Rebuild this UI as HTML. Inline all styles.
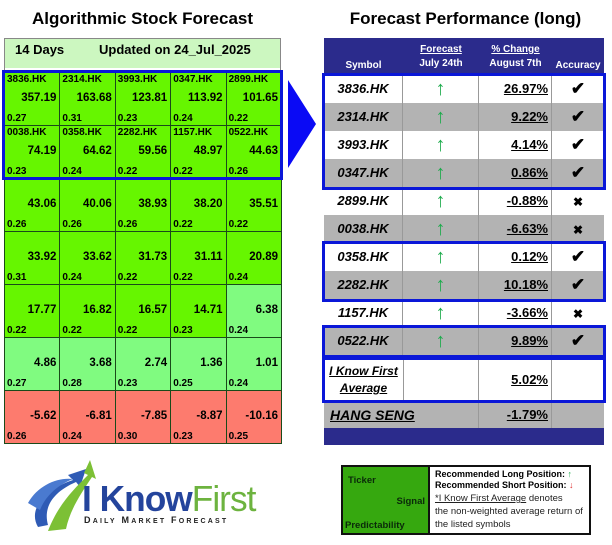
<!DOCTYPE html>
<html><head><meta charset="utf-8"><style>
*{margin:0;padding:0;box-sizing:border-box}
body{width:612px;height:545px;background:#fff;position:relative;overflow:hidden;font-family:"Liberation Sans",Arial,sans-serif;font-weight:bold;color:#000}
.a{position:absolute}
.c{position:absolute;border:1px solid #1a4a1a;font-size:10px}
.c .t{position:absolute;left:2px;top:1px;font-size:10px}
.c .v{position:absolute;right:3px;top:19px;font-size:11.5px}
.c .p{position:absolute;left:2px;bottom:1px;font-size:10px}
.r{position:absolute;left:324px;width:280px;height:28px;font-size:12px}
.r div{position:absolute;top:0;height:28px;line-height:28px;border-right:1px solid #999;white-space:nowrap}
.sym{left:0;width:79px;text-align:center;font-style:italic;font-size:13px}
.ar{left:79px;width:76px;text-align:center;color:#1dab4c;font-size:20px;font-weight:normal}
.pc{left:155px;width:73px;text-align:right;padding-right:3px;text-decoration:underline;font-size:13px}
.ac{left:228px;width:52px;text-align:center;font-size:17px;border-right:none!important}
.bl{position:absolute;border:3px solid #0a17d8}
</style></head><body>
<div class="a" style="left:0;top:9px;width:285px;text-align:center;font-size:17px">Algorithmic Stock Forecast</div>
<div class="a" style="left:323px;top:9px;width:285px;text-align:center;font-size:17px">Forecast Performance (long)</div>
<div class="a" style="left:4px;top:38px;width:277px;height:30px;background:#ccf7c0;border:1px solid #888;border-bottom:none;font-size:13px;line-height:22px;padding-left:10px">14 Days<span style="position:absolute;left:94px">Updated on 24_Jul_2025</span></div>
<div class="a" style="left:4px;top:60px;width:277px;height:12px;border-left:1px solid #888;border-right:1px solid #888"></div>
<div id="g"></div>
<div class="bl" style="left:2px;top:70px;width:281px;height:110px"></div>
<svg class="a" style="left:286px;top:78px" width="32" height="92"><polygon points="2,2 2,90 30,46" fill="#0a0af5"/></svg>
<div class="a" style="left:324px;top:38px;width:280px;height:37px;background:#2b2b8c;color:#fff;font-size:10px">
<div class="a" style="left:0;width:79px;top:22px;text-align:center">Symbol</div>
<div class="a" style="left:79px;width:76px;top:6px;text-align:center"><u>Forecast</u><br><span style="line-height:18px">July 24th</span></div>
<div class="a" style="left:155px;width:73px;top:6px;text-align:center"><u>% Change</u><br><span style="line-height:18px">August 7th</span></div>
<div class="a" style="left:228px;width:52px;top:22px;text-align:center">Accuracy</div>
</div>
<div id="t"></div>
<div class="r" style="top:357px;height:45px;background:#fff"><div class="sym" style="height:45px;line-height:normal;top:7px;font-family:'Liberation Sans Narrow','Liberation Sans',sans-serif;font-size:12px;text-decoration:underline;border-right:none">I Know First<br><span style="line-height:20px">Average</span></div><div class="ar" style="height:45px;border-left:1px solid #999"></div><div class="pc" style="height:45px;line-height:45px">5.02%</div><div class="ac" style="height:45px"></div></div>
<div class="r" style="top:402px;height:26px;background:#b3b3b3"><div class="ar" style="height:26px"></div><div class="pc" style="line-height:26px;height:26px">-1.79%</div><div class="ac" style="height:26px"></div><div class="sym" style="text-align:left;padding-left:6px;line-height:26px;text-decoration:underline;font-size:14px;border-right:none;width:100px">HANG SENG</div></div>
<div class="a" style="left:324px;top:428px;width:280px;height:17px;background:#2b2b8c"></div>
<div class="bl" style="left:322px;top:73px;width:284px;height:117px"></div>
<div class="bl" style="left:322px;top:241px;width:284px;height:61px"></div>
<div class="bl" style="left:322px;top:325px;width:284px;height:33px"></div>
<div class="bl" style="left:322px;top:357px;width:284px;height:46px"></div>
<div class="a" style="left:341px;top:465px;width:250px;height:70px;border:2px solid #111;background:#fff">
<div class="a" style="left:0;top:0;width:87px;height:66px;background:#36a80f;border-right:2px solid #111;font-size:9.5px;color:#0a2a0a">
<div class="a" style="left:5px;top:8px">Ticker</div><div class="a" style="right:3px;top:29px">Signal</div><div class="a" style="left:2px;top:53px">Predictability</div></div>
<div class="a" style="left:92px;top:2px;font-size:9px;line-height:11px">Recommended Long Position: <span style="color:#1dab4c">↑</span><br>Recommended Short Position: <span style="color:#e03030">↓</span></div>
<div class="a" style="left:92px;top:25px;font-size:9.5px;font-weight:normal;line-height:13px;color:#222"><u>*I Know First Average</u> denotes<br>the non-weighted average return of<br>the listed symbols</div>
</div>
<svg class="a" style="left:18px;top:455px" width="80" height="80">
<path d="M20 72 C10 55 25 35 55 25 L50 20 L68 14 L62 32 L58 27 C35 37 25 52 30 70 Z" fill="#2f5bb5"/>
<path d="M30 76 C40 50 55 35 70 20 L66 18 L72 5 L78 24 L74 22 C62 40 52 55 48 74 Z" fill="#7cc035"/>
<path d="M10 48 C20 30 40 22 55 24 C40 30 28 40 22 55 Z" fill="#4a7ad0"/>
</svg>
<div class="a" style="left:82px;top:480px;font-size:36px;font-weight:bold;letter-spacing:-1px;color:#24449c;line-height:38px;transform:scaleX(0.98);transform-origin:left">I Know<span style="color:#6db33f;font-weight:normal">First</span></div>
<div class="a" style="left:84px;top:515px;font-size:9px;letter-spacing:2.2px;color:#222">D<span style="font-size:7px">AILY</span> M<span style="font-size:7px">ARKET</span> F<span style="font-size:7px">ORECAST</span></div>
<script>
var G='#66f600',L='#80fb80',R='#fd7b6e';
var rows=[
[['3836.HK','357.19','0.27',G],['2314.HK','163.68','0.31',G],['3993.HK','123.81','0.23',G],['0347.HK','113.92','0.24',G],['2899.HK','101.65','0.22',G]],
[['0038.HK','74.19','0.23',G],['0358.HK','64.62','0.24',G],['2282.HK','59.56','0.22',G],['1157.HK','48.97','0.22',G],['0522.HK','44.63','0.26',G]],
[['','43.06','0.26',G],['','40.06','0.26',G],['','38.93','0.26',G],['','38.20','0.22',G],['','35.51','0.22',G]],
[['','33.92','0.31',G],['','33.62','0.24',G],['','31.73','0.22',G],['','31.11','0.22',G],['','20.89','0.24',G]],
[['','17.77','0.22',G],['','16.82','0.22',G],['','16.57','0.22',G],['','14.71','0.23',G],['','6.38','0.24',L]],
[['','4.86','0.27',L],['','3.68','0.28',L],['','2.74','0.23',L],['','1.36','0.25',L],['','1.01','0.24',L]],
[['','-5.62','0.26',R],['','-6.81','0.24',R],['','-7.85','0.30',R],['','-8.87','0.23',R],['','-10.16','0.25',R]]];
var h='';
rows.forEach(function(r,i){r.forEach(function(c,j){
h+='<div class="c" style="left:'+(4+j*55.4)+'px;top:'+(72+i*53)+'px;width:56.4px;height:54px;background:'+c[3]+'"><span class="t">'+c[0]+'</span><span class="v">'+c[1]+'</span><span class="p">'+c[2]+'</span></div>';});});
document.getElementById('g').innerHTML=h;
var t=[['3836.HK','26.97%',1],['2314.HK','9.22%',1],['3993.HK','4.14%',1],['0347.HK','0.86%',1],['2899.HK','-0.88%',0],['0038.HK','-6.63%',0],['0358.HK','0.12%',1],['2282.HK','10.18%',1],['1157.HK','-3.66%',0],['0522.HK','9.89%',1]];
h='';
t.forEach(function(r,i){h+='<div class="r" style="top:'+(75+i*28)+'px;background:'+(i%2?'#b3b3b3':'#fff')+'"><div class="sym">'+r[0]+'</div><div class="ar">↑</div><div class="pc">'+r[1]+'</div><div class="ac">'+(r[2]?'✔':'<span style="font-size:12px">✖</span>')+'</div></div>';});
document.getElementById('t').innerHTML=h;
</script>
</body></html>
